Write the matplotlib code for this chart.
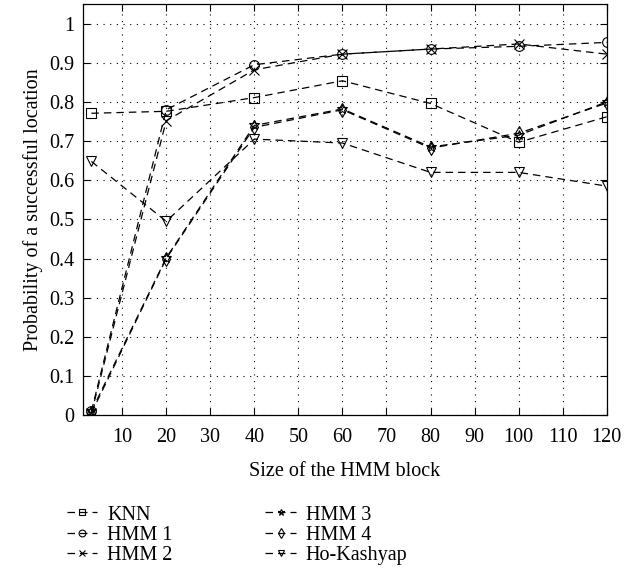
import matplotlib
matplotlib.use('Agg')
import matplotlib.pyplot as plt

# Data
block_size = [3, 20, 40, 60, 80, 100, 120]
knn        = [0.771, 0.776, 0.811, 0.854, 0.796, 0.697, 0.762]
hmm1       = [0.010, 0.780, 0.895, 0.922, 0.935, 0.942, 0.952]
hmm2       = [0.005, 0.752, 0.882, 0.922, 0.935, 0.948, 0.922]
hmm3       = [0.010, 0.402, 0.740, 0.782, 0.685, 0.715, 0.800]
hmm4       = [0.005, 0.400, 0.735, 0.780, 0.682, 0.720, 0.797]
ho_kashyap = [0.648, 0.495, 0.705, 0.695, 0.620, 0.620, 0.585]

series = [
    ('KNN', knn, 's'),
    ('HMM 1', hmm1, 'o'),
    ('HMM 2', hmm2, 'x'),
    ('HMM 3', hmm3, '*'),
    ('HMM 4', hmm4, 'd'),
    ('Ho-Kashyap', ho_kashyap, 'v'),
]

xticks = [10, 20, 30, 40, 50, 60, 70, 80, 90, 100, 110, 120]
yticks = [0, 0.1, 0.2, 0.3, 0.4, 0.5, 0.6, 0.7, 0.8, 0.9, 1.0]
ytick_labels = ['0', '0.1', '0.2', '0.3', '0.4', '0.5', '0.6', '0.7', '0.8', '0.9', '1']

plt.rcParams['font.family'] = ['Liberation Serif', 'DejaVu Serif']
plt.rcParams['font.size'] = 14.5

fig = plt.figure(figsize=(6.4, 5.75), dpi=100)
ax = fig.add_axes([0.129, 0.278, 0.819, 0.715])

handles = []
for name, vals, mk in series:
    h, = ax.plot(block_size, vals, linestyle=(0, (6, 4)), color='black', lw=0.9,
                 marker=mk, markersize=7, markerfacecolor='none',
                 markeredgecolor='black', markeredgewidth=0.8, label=name)
    handles.append(h)

ax.set_xlim(1, 120)
ax.set_ylim(0, 1.05)
ax.set_xticks(xticks)
ax.set_yticks(yticks)
ax.set_yticklabels(ytick_labels)
ax.grid(True, linestyle=(0, (1, 5)), color='black', lw=0.8)
ax.tick_params(direction='in', top=True, right=True, length=5, width=0.8, pad=6)
ax.tick_params(axis='x', pad=9)
for sp in ax.spines.values():
    sp.set_linewidth(0.9)

ax.set_xlabel('Size of the HMM block', labelpad=11)
ax.set_ylabel('Probability of a successful location', labelpad=4)

fig.legend(handles, [s[0] for s in series],
           loc='upper left', bbox_to_anchor=(0.105, 0.121), ncol=2, frameon=False,
           borderpad=0, borderaxespad=0,
           handlelength=1.5, columnspacing=4.6, labelspacing=0.05,
           handletextpad=0.5, markerscale=0.7)

fig.savefig('out.png', dpi=100)
